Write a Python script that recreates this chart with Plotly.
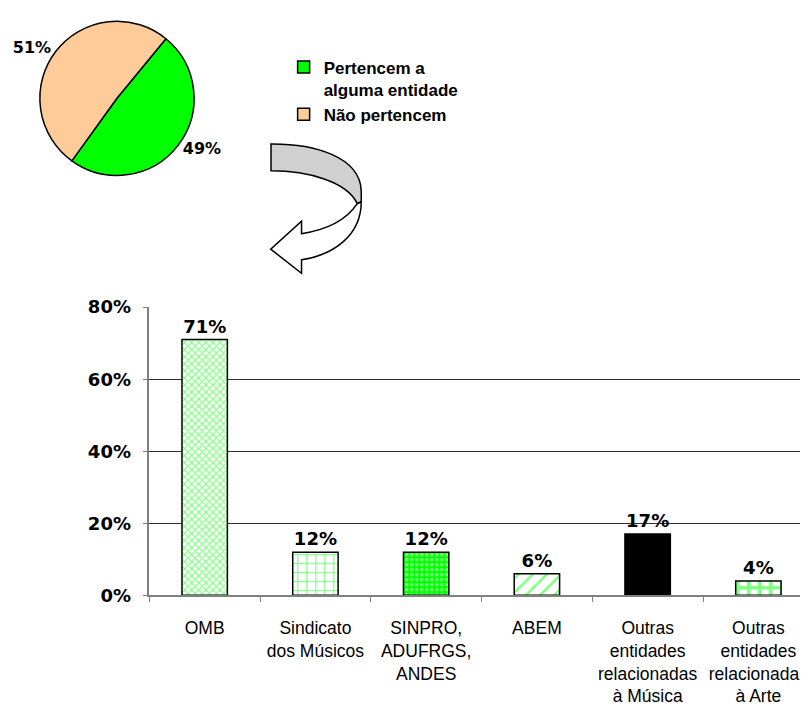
import plotly.graph_objects as go

# The page body has an 8px default margin, so the figure is drawn at (8, 8).
OFF = 8
W, H = 808 - OFF, 706 - OFF

# ---- data ----
pie_labels = ["Pertencem a<br>alguma entidade", "Não pertencem"]
pie_values = [49, 51]
pie_colors = ["#00FF00", "#FFCC99"]

categories = ["OMB", "Sindicato<br>dos Músicos", "SINPRO,<br>ADUFRGS,<br>ANDES", "ABEM",
              "Outras<br>entidades<br>relacionadas<br>à Música",
              "Outras<br>entidades<br>relacionadas<br>à Arte"]
bar_values = [71, 12, 12, 6, 17, 4]
y_ticks = [0, 20, 40, 60, 80]
y_ticklabels = ["0%", "20%", "40%", "60%", "80%"]

# ---- styles ----
pat_shapes = ["x", "+", ".", "/", "", "+"]
pat_fg = ["#00FF00", "#00FF00", "#FFFFFF", "#00FF00", "#000000", "#00FF00"]
pat_bg = ["#FFFFFF", "#FFFFFF", "#00FF00", "#FFFFFF", "#000000", "#FFFFFF"]
pat_size = [5, 9, 5, 10, 8, 11]
pat_sol = [0.4, 0.25, 0.35, 0.25, 0.3, 0.55]
FONT = "Liberation Sans, Arial, sans-serif"
NUMFONT = "DejaVu Sans, Verdana, sans-serif"


def px(x):  # screen pixel x -> paper fraction
    return (x - OFF) / W


def py(y):  # screen pixel y -> paper fraction
    return min(1.0, max(0.0, 1 - (y - OFF) / H))


fig = go.Figure()

fig.add_trace(go.Pie(
    labels=pie_labels, values=pie_values, sort=False, direction="clockwise",
    rotation=39.4,
    marker=dict(colors=pie_colors, line=dict(color="black", width=1.5)),
    texttemplate="%{value}%", textposition="outside",
    textfont=dict(family=NUMFONT, size=16, color="black", weight="bold"),
    domain=dict(x=[px(37), px(192)], y=[py(170), py(10)]),
    hoverinfo="label+percent",
))

for i, cat in enumerate(categories):
    fig.add_trace(go.Bar(
        x=[cat], y=[bar_values[i]], width=0.41, showlegend=False,
        marker=dict(
            color=pat_bg[i],
            line=dict(color="black", width=1.5),
            pattern=dict(shape=pat_shapes[i], fgcolor=pat_fg[i], bgcolor=pat_bg[i],
                         size=pat_size[i], solidity=pat_sol[i], fillmode="overlay"),
        ),
        texttemplate="%{y}%", textposition="outside", cliponaxis=False,
        textfont=dict(family=NUMFONT, size=18, color="black", weight="bold"),
    ))


def path(cmds):
    out = []
    for c in cmds:
        if isinstance(c, str):
            out.append(c)
        else:
            out.append(f"{px(c[0]):.5f},{py(c[1]):.5f}")
    return " ".join(out)


# curved arrow decoration (screen pixel coordinates)
gray_band = path(["M", (269.3, 137.3), "C", (312, 137), (359, 150), (360, 186),
                  "L", (360, 197), "L", (356, 199),
                  "C", (346, 176), (306, 165), (269.3, 165), "Z"])
white_part = path(["M", (356, 199), "C", (345, 216), (326, 226), (300, 230),
                   "L", (300, 217), "L", (269, 246), "L", (300, 271), "L", (300, 257),
                   "C", (332, 252), (360, 232), (360, 197), "Z"])

fig.update_layout(
    width=W, height=H,
    margin=dict(l=0, r=0, t=0, b=0),
    paper_bgcolor="white", plot_bgcolor="white",
    font=dict(family=FONT, color="black"),
    showlegend=True,
    barmode="overlay",
    legend=dict(x=px(282), y=py(39.5), xanchor="left", yanchor="top", valign="top",
                font=dict(family=FONT, size=17, color="black", weight="bold"),
                bgcolor="rgba(0,0,0,0)", tracegroupgap=0),
    xaxis=dict(domain=[px(147), 1], range=[-0.5, 5.439], type="category",
               categoryorder="array", categoryarray=categories,
               showline=True, linecolor="#808080", linewidth=1.5,
               ticks="outside", tickson="boundaries", ticklen=5, tickcolor="#808080",
               tickfont=dict(family=FONT, size=17.5, color="black"),
               ticklabelstandoff=16, showgrid=False, fixedrange=True),
    yaxis=dict(domain=[py(604), py(306)], range=[0, 80],
               tickvals=y_ticks, ticktext=y_ticklabels,
               showline=True, linecolor="#808080", linewidth=1.5,
               ticks="outside", ticklen=5, tickcolor="#808080",
               showgrid=True, gridcolor="#303030", gridwidth=1, zeroline=False,
               tickfont=dict(family=NUMFONT, size=18, color="black", weight="bold"),
               ticklabelstandoff=8, fixedrange=True),
    shapes=[
        dict(type="path", xref="paper", yref="paper", path=gray_band,
             fillcolor="#D0D0D0", line=dict(color="black", width=1.5)),
        dict(type="path", xref="paper", yref="paper", path=white_part,
             fillcolor="white", line=dict(color="black", width=1.5)),
    ],
)

fig.write_html("out.html")
